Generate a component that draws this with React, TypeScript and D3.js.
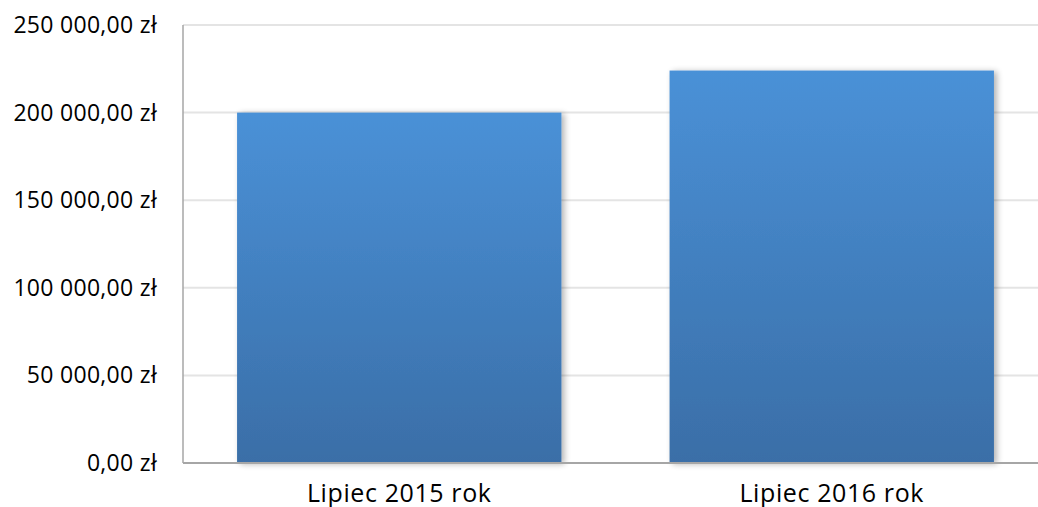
import React from "react";
import * as d3 from "d3";

const categories = ["Lipiec 2015 rok", "Lipiec 2016 rok"];
const values = [200000, 224000];
const yTicks = [0, 50000, 100000, 150000, 200000, 250000];

const W = 1038;
const H = 507;
const margin = { left: 183, right: -10, top: 25, bottom: 44 };

function fmt(v: number): string {
  const s = d3.format(",.2f")(v);
  return s.replace(/,/g, " ").replace(".", ",") + " zł";
}

export default function App() {
  const x = d3
    .scaleBand<string>()
    .domain(categories)
    .range([margin.left, W - margin.right])
    .paddingInner(0.25)
    .paddingOuter(0.125);
  const y = d3
    .scaleLinear()
    .domain([0, 250000])
    .range([H - margin.bottom, margin.top]);
  const font = "'Open Sans', 'Noto Sans', sans-serif";
  return (
    <svg
      width={W}
      height={H}
      style={{ position: "absolute", left: 0, top: 0, background: "#fff" }}
    >
      <defs>
        <linearGradient id="barGrad" x1="0" y1="0" x2="0" y2="1">
          <stop offset="0%" stopColor="#4a91d7" />
          <stop offset="100%" stopColor="#3a6ea7" />
        </linearGradient>
        <filter id="shadow" x="-10%" y="-10%" width="130%" height="120%">
          <feGaussianBlur in="SourceAlpha" stdDeviation="3" />
          <feOffset dx="3" dy="1" result="b" />
          <feComponentTransfer>
            <feFuncA type="linear" slope="0.3" />
          </feComponentTransfer>
          <feMerge>
            <feMergeNode />
            <feMergeNode in="SourceGraphic" />
          </feMerge>
        </filter>
      </defs>
      {yTicks.map((t) => (
        <g key={t}>
          {t > 0 && (
            <line
              x1={margin.left}
              x2={W}
              y1={y(t)}
              y2={y(t)}
              stroke="#e4e4e4"
              strokeWidth={2}
            />
          )}
          <text
            x={157}
            y={y(t)}
            dy="0.35em"
            textAnchor="end"
            fontFamily={font}
            fontSize={23}
            letterSpacing={0.3}
            fill="#000"
          >
            {fmt(t)}
          </text>
        </g>
      ))}
      {categories.map((c, i) => (
        <rect
          key={c}
          x={x(c)}
          y={y(values[i])}
          width={x.bandwidth()}
          height={y(0) - y(values[i])}
          fill="url(#barGrad)"
          filter="url(#shadow)"
        />
      ))}
      <line
        x1={margin.left}
        x2={margin.left}
        y1={margin.top}
        y2={y(0)}
        stroke="#a6a6a6"
        strokeWidth={1.5}
      />
      <line
        x1={margin.left}
        x2={W}
        y1={y(0)}
        y2={y(0)}
        stroke="#a6a6a6"
        strokeWidth={2}
      />
      {categories.map((c) => (
        <text
          key={c}
          x={(x(c) as number) + x.bandwidth() / 2}
          y={502}
          textAnchor="middle"
          fontFamily={font}
          fontSize={25}
          letterSpacing={0.6}
          fill="#000"
        >
          {c}
        </text>
      ))}
    </svg>
  );
}
